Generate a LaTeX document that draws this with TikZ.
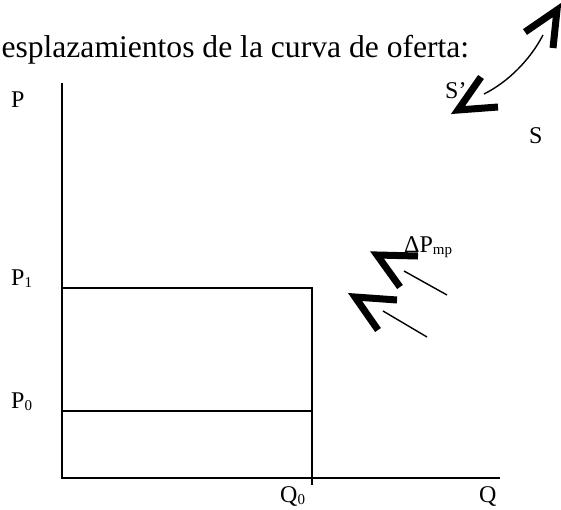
\documentclass[tikz,border=0pt]{standalone}
\usepackage{fontspec}
\setmainfont{Liberation Serif}
\newcommand{\mysub}[1]{\raisebox{-0.12em}{\fontsize{15}{15}\selectfont #1}}
\tikzset{
  axisline/.style={line width=2pt},
  thinarrow/.style={line width=1.4pt},
  chevron/.style={line width=7pt, miter limit=10, line join=miter, line cap=butt},
  lbl/.style={anchor=base west, inner sep=0pt, font=\fontsize{24}{26}\selectfont},
}
\begin{document}
\begin{tikzpicture}[x=1pt,y=-1pt]
\useasboundingbox (0,0) rectangle (561,509);
% title
\node[anchor=base west, inner sep=0pt, font=\fontsize{31.6}{36}\selectfont] (title) at (-21.5,57) {Desplazamientos de la curva de oferta:};
% axes
\coordinate (O) at (62,478);
\coordinate (ytop) at (62,83);
\coordinate (xend) at (500,478);
\coordinate (p1l) at (62,288);
\coordinate (p1r) at (312,288);
\coordinate (p0l) at (62,411);
\coordinate (p0r) at (312,411);
\coordinate (q0b) at (312,485);
\draw[axisline] (ytop) -- (O) -- (xend);
\draw[axisline] (p1l) -- (p1r) -- (q0b);
\draw[axisline] (p0l) -- (p0r);
% labels
\node[lbl] (lP) at (11,107) {P};
\node[lbl] (lP1) at (11,285) {P\mysub{1}};
\node[lbl] (lP0) at (11,408) {P\mysub{0}};
\node[lbl] (lQ0) at (280,502) {Q\mysub{0}};
\node[lbl] (lQ) at (479,502) {Q};
\node[lbl] (lS) at (529,143) {S};
\node[lbl] (lSp) at (445,98) {S’};
\node[lbl] (lDP) at (404,252) {ΔP\mysub{mp}};
% top-right shift arrows
\coordinate (ca1) at (525,32);
\coordinate (cap1) at (557,10);
\coordinate (cb1) at (553,48);
\draw[chevron] (ca1) -- (cap1) -- (cb1);
\coordinate (ca2) at (481,77);
\coordinate (cap2) at (458,110);
\coordinate (cb2) at (498,107);
\draw[chevron] (ca2) -- (cap2) -- (cb2);
\coordinate (cs) at (484,94);
\coordinate (ce) at (543,35);
\draw[thinarrow] (cs) .. controls (508,82) and (530,60) .. (ce);
% Delta P chevrons
\coordinate (da1) at (418,256);
\coordinate (dap1) at (377,255);
\coordinate (db1) at (400,287);
\draw[chevron] (da1) -- (dap1) -- (db1);
\coordinate (dl1s) at (404,271);
\coordinate (dl1e) at (447,295);
\draw[thinarrow] (dl1s) -- (dl1e);
\coordinate (da2) at (397,300);
\coordinate (dap2) at (355,297);
\coordinate (db2) at (378,330);
\draw[chevron] (da2) -- (dap2) -- (db2);
\coordinate (dl2s) at (383,311);
\coordinate (dl2e) at (427,337);
\draw[thinarrow] (dl2s) -- (dl2e);
\end{tikzpicture}
\end{document}
